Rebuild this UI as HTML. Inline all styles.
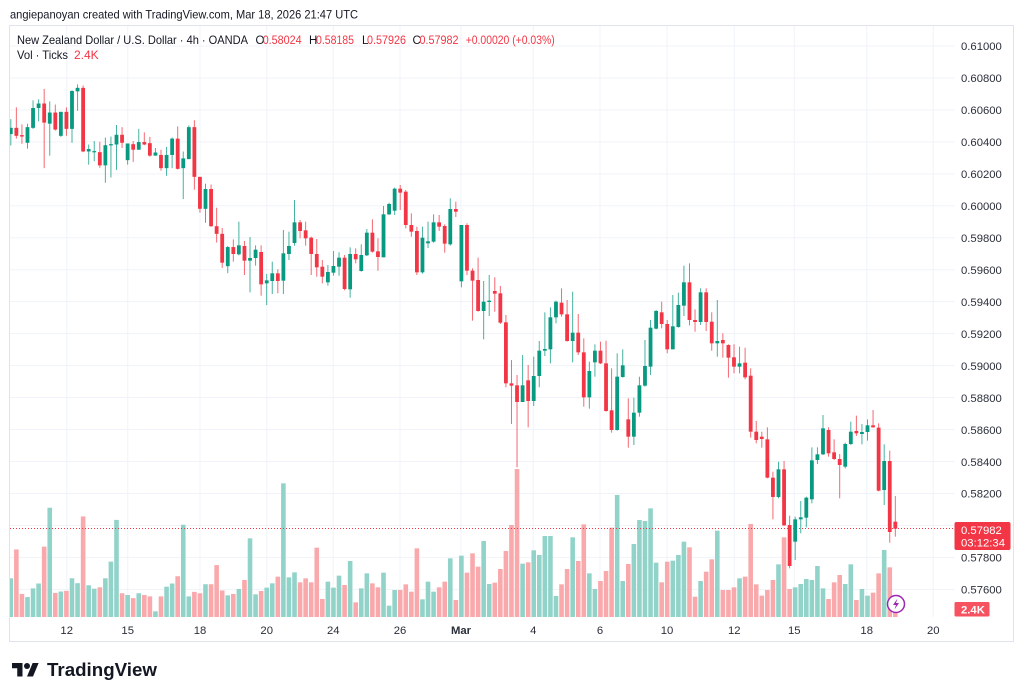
<!DOCTYPE html>
<html>
<head>
<meta charset="utf-8">
<style>
html,body{margin:0;padding:0;background:#fff;}
body{width:1024px;height:698px;overflow:hidden;}
svg{display:block;}
text{font-family:"Liberation Sans",Arial,sans-serif;}
</style>
</head>
<body>
<svg id="chart" width="1024" height="698" viewBox="0 0 1024 698" xmlns="http://www.w3.org/2000/svg">
  <rect x="0" y="0" width="1024" height="698" fill="#ffffff"/>
  <defs>
    <clipPath id="plot"><rect x="10" y="26" width="944" height="591"/></clipPath>
  </defs>

  <!-- header -->
  <text x="10" y="18.5" font-size="12" fill="#131722" textLength="348" lengthAdjust="spacingAndGlyphs">angiepanoyan created with TradingView.com, Mar 18, 2026 21:47 UTC</text>

  <!-- frame -->
  <rect x="9.5" y="25.5" width="1004" height="616" fill="none" stroke="#e0e3eb" stroke-width="1"/>

  <g id="grid"></g>
  <g id="vol" clip-path="url(#plot)"></g>
  <line x1="10" y1="528.5" x2="954" y2="528.5" stroke="#F23645" stroke-width="1" stroke-dasharray="1,2"/>
  <g id="candles" clip-path="url(#plot)"></g>

  <!-- legend -->
  <text x="17" y="44" font-size="12" fill="#131722" textLength="231" lengthAdjust="spacingAndGlyphs">New Zealand Dollar / U.S. Dollar · 4h · OANDA</text>
  <text x="255.5" y="44" font-size="11.5" fill="#131722">O</text>
  <text x="262.7" y="44" font-size="11.5" fill="#F23645" textLength="39" lengthAdjust="spacingAndGlyphs">0.58024</text>
  <text x="309" y="44" font-size="11.5" fill="#131722">H</text>
  <text x="316" y="44" font-size="11.5" fill="#F23645" textLength="38" lengthAdjust="spacingAndGlyphs">0.58185</text>
  <text x="362" y="44" font-size="11.5" fill="#131722">L</text>
  <text x="367" y="44" font-size="11.5" fill="#F23645" textLength="39" lengthAdjust="spacingAndGlyphs">0.57926</text>
  <text x="412.5" y="44" font-size="11.5" fill="#131722">C</text>
  <text x="419.5" y="44" font-size="11.5" fill="#F23645" textLength="39" lengthAdjust="spacingAndGlyphs">0.57982</text>
  <text x="465.7" y="44" font-size="11.5" fill="#F23645" textLength="89" lengthAdjust="spacingAndGlyphs">+0.00020 (+0.03%)</text>
  <text x="17" y="59" font-size="12" fill="#131722" textLength="51" lengthAdjust="spacingAndGlyphs">Vol · Ticks</text>
  <text x="74" y="59" font-size="12" fill="#F23645">2.4K</text>

  <!-- price axis -->
  <g font-size="11.3" fill="#2a2e39">
    <text x="961" y="50">0.61000</text>
    <text x="961" y="82">0.60800</text>
    <text x="961" y="114">0.60600</text>
    <text x="961" y="146">0.60400</text>
    <text x="961" y="178">0.60200</text>
    <text x="961" y="210">0.60000</text>
    <text x="961" y="242">0.59800</text>
    <text x="961" y="274">0.59600</text>
    <text x="961" y="306">0.59400</text>
    <text x="961" y="338">0.59200</text>
    <text x="961" y="370">0.59000</text>
    <text x="961" y="402">0.58800</text>
    <text x="961" y="434">0.58600</text>
    <text x="961" y="466">0.58400</text>
    <text x="961" y="497.5">0.58200</text>
    <text x="961" y="561.5">0.57800</text>
    <text x="961" y="593.5">0.57600</text>
  </g>

  <!-- last price label -->
  <rect x="954.5" y="522" width="56" height="28" rx="2" fill="#F23645"/>
  <text x="961" y="534" font-size="11.3" fill="#ffffff">0.57982</text>
  <text x="961" y="546.5" font-size="11.3" fill="#ffffff">03:12:34</text>
  <rect x="954.5" y="602" width="35" height="14.5" rx="1.5" fill="#F7525F"/>
  <text x="961" y="613.5" font-size="11.3" fill="#ffffff" font-weight="bold">2.4K</text>

  <!-- date axis -->
  <g font-size="11.3" fill="#2a2e39" text-anchor="middle">
    <text x="66.7" y="634">12</text>
    <text x="127.7" y="634">15</text>
    <text x="200" y="634">18</text>
    <text x="266.7" y="634">20</text>
    <text x="333.3" y="634">24</text>
    <text x="400" y="634">26</text>
    <text x="461" y="634" font-weight="bold">Mar</text>
    <text x="533.3" y="634">4</text>
    <text x="600" y="634">6</text>
    <text x="667" y="634">10</text>
    <text x="734.3" y="634">12</text>
    <text x="794.3" y="634">15</text>
    <text x="866.7" y="634">18</text>
    <text x="933.3" y="634">20</text>
  </g>

  <!-- lightning icon -->
  <circle cx="896" cy="604" r="8.5" fill="#ffffff" stroke="#9c27b0" stroke-width="1.5"/>
  <path d="M897.5 598.5 L893 605 L896 605 L894.5 609.5 L899 603 L896 603 Z" fill="#9c27b0"/>

  <!-- logo -->
  <g transform="translate(12,660) scale(0.75)" fill="#131722">
    <path d="M14 22H7V11H0V4h14v18zM28 22h-8l7.5-18h8L28 22z"/>
    <circle cx="20" cy="8" r="4"/>
  </g>
  <text x="47" y="676" font-size="18.2" font-weight="bold" fill="#131722" textLength="110" lengthAdjust="spacingAndGlyphs">TradingView</text>
</svg>

<script>
(function(){
  var NS="http://www.w3.org/2000/svg";
  var G="#089981", R="#F23645", VG="#92d3c9", VR="#f9a9ab";
  var segs=[
   {b:75,s:2.877,d:[
    [1,152,170,127,203,1448],[0,152,175,93,183,1365],[0,173,177,142,198,1493],[1,150,195,140,212,1502],
    [1,95,152,73,155,1477],[1,82,95,70,133,1463],[0,82,137,40,268,1357],[1,108,140,76,232,1245],
    [0,108,157,85,160,1490],[1,106,175,106,178,1486],[0,106,155,93,175,1484],[1,46,155,44,195,1448],
    [1,37,47,27,103,1462],[0,37,220,30,222,1270],[1,213,220,200,258,1468],[1,219,221,190,248,1478],
    [0,222,260,192,267,1474],[1,202,260,180,310,1448],[1,199,202,177,295,1400],[1,172,200,144,273,1280],
    [0,172,195,150,210,1491],[1,197,245,197,258,1496],[0,199,215,190,250,1505],[1,193,215,155,215,1491],
    [0,193,200,165,202,1496],[0,196,232,178,235,1500],[1,223,232,210,232,1543],[0,230,268,215,275,1500],
    [1,230,268,207,290,1472],[1,183,230,180,268,1463],[0,183,270,148,272,1442],[1,240,268,220,357,1294],
    [1,150,242,145,242,1500],[0,150,293,130,330,1487],[0,293,385,293,396,1491],[1,328,385,313,425,1465],
    [0,328,435,315,437,1465],[0,435,457,382,482,1410],[0,457,540,440,555,1483],[1,495,550,492,570,1497],
    [0,495,515,473,537,1493]
   ]},
   {b:175,s:3,d:[
    [1,211,238,140,241,1242],[0,213,257,198,300,1215],[1,249,257,186,352,1090],[1,224,249,211,272,1258],
    [0,231,328,211,362,1248],[1,316,325,297,390,1238],[1,295,318,260,357,1225],[0,295,318,283,355,1205],
    [1,235,317,165,357,925],[1,213,237,170,255,1207],[1,142,204,75,212,1192],[0,142,168,135,190,1222],
    [0,166,190,140,212,1210],[0,188,237,185,300,1222],[0,237,277,192,305,1118],[0,275,305,255,325,1272],
    [1,291,322,270,332,1220],[1,273,293,228,302,1238],[1,248,275,232,302,1202],[0,248,342,240,346,1230],
    [1,237,343,217,368,1158],[0,237,253,220,265,1282],[1,240,288,208,290,1240],[1,173,241,162,243,1195],
    [0,173,230,133,233,1225],[0,229,246,190,287,1237],[1,118,247,93,247,1193],[1,87,118,83,120,1292],
    [1,41,107,38,120,1245],[0,41,53,30,105,1245],[0,50,150,45,160,1228],[0,150,170,115,185,1250],
    [0,168,292,155,300,1120],[1,188,292,155,296,1273],[1,199,205,140,219,1220],[1,142,200,118,203,1250],
    [0,142,155,120,168,1237],[0,153,206,148,233,1220],[1,102,208,70,212,1150],[0,102,110,80,126,1275],
    [1,150,319,150,337,1142]
   ]},
   {b:250,s:3,d:[
    [0,-75,62,-80,75,968],[0,62,92,55,212,910],[0,90,183,23,185,950],[1,155,183,93,268,873],
    [1,152,156,75,198,1002],[0,123,131,82,185,998],[0,130,218,108,222,957],[0,217,400,195,412,903],
    [0,400,407,330,522,825],[0,406,456,375,652,657],[1,406,456,315,456,941],[0,391,453,345,532,937],
    [1,378,453,320,468,901],[1,302,378,273,412,915],[1,297,302,187,318,858],[1,202,298,172,340,858],
    [1,155,202,152,220,1038],[0,158,193,115,200,1003],[0,193,273,150,275,957],[1,248,273,125,337,862],
    [0,248,307,192,315,933],[0,307,442,265,470,823],[1,363,442,335,476,970],[1,302,337,283,380,1017],
    [0,302,340,275,342,993],[0,340,483,272,485,963],[0,481,540,355,548,833],[1,380,540,310,542,735],
    [1,346,381,298,383,993],[0,508,560,445,593,942],[1,488,560,443,585,882],[1,406,488,380,500,810],
    [1,348,407,270,410,813],[1,233,350,210,375,775],[1,183,236,180,238,938],[0,187,222,155,235,997],
    [0,222,298,210,310,935],[1,229,298,135,298,932],[1,165,231,128,233,915],[1,97,167,47,198,875]
   ]},
   {b:250,s:3,d:[
    [0,97,210,40,226,892],[0,210,216,178,245,1040],[1,127,216,115,225,993],[0,127,216,115,243,965],
    [0,215,280,187,302,928],[1,273,280,150,320,842],[0,270,280,250,323,1020],[0,285,323,283,383,1020],
    [0,322,350,283,370,1012],[1,340,350,290,370,985],[0,338,382,293,388,980],[0,377,545,355,563,822],
    [0,545,570,513,580,1003],[0,560,567,545,593,1037],[0,568,683,532,685,1020],[0,683,741,665,808,990],
    [1,658,741,635,745,943],[0,658,826,633,828,862],[0,825,948,797,955,1017],[1,808,875,800,930,1012],
    [1,802,808,753,850,1002],[1,743,803,740,832,987],[1,631,748,592,760,990],[1,613,630,592,642,948],
    [1,535,613,495,615,1015],[0,540,610,532,620,1047],[0,607,627,568,630,997],[0,627,645,612,745,975],
    [1,582,650,578,655,1002],[1,545,582,515,585,943],[0,543,550,497,558,1050],[1,546,552,522,583,1017],
    [1,526,546,508,572,1037],[0,526,532,480,533,1028],[0,533,722,520,724,970],[1,633,720,583,765,900],
    [0,633,846,602,878,952],[0,815,836,738,860,1085]
   ]}
  ];
  function el(tag,attrs,parent){var e=document.createElementNS(NS,tag);for(var k in attrs)e.setAttribute(k,attrs[k]);parent.appendChild(e);return e;}
  var grid=document.getElementById("grid"), vol=document.getElementById("vol"), cg=document.getElementById("candles");
  for(var k=0;k<18;k++){var y=46+k*31.96;el("line",{x1:10,x2:955,y1:y,y2:y,stroke:"#f0f3fa","stroke-width":1},grid);}
  var vx=[66.7,127.7,200,266.7,333.3,400,461,533.3,600,667,734.3,794.3,866.7,933.3];
  vx.forEach(function(x){el("line",{x1:x,x2:x,y1:26,y2:617,stroke:"#f0f3fa","stroke-width":1},grid);});
  var i=1, BASE=617;
  segs.forEach(function(sg){
    sg.d.forEach(function(c){
      var x=10.8+(i-1)*5.563;
      var Y=function(z){return sg.b+z/sg.s;};
      var col=c[0]?G:R, vcol=c[0]?VG:VR;
      var vt=Y(c[5]);
      el("rect",{x:(x-2.3).toFixed(2),y:vt.toFixed(2),width:4.6,height:Math.max(0,BASE-vt).toFixed(2),fill:vcol},vol);
      var bt=Y(c[1]), bb=Y(c[2]), wt=Y(c[3]), wb=Y(c[4]);
      el("line",{x1:x.toFixed(2),x2:x.toFixed(2),y1:wt.toFixed(2),y2:wb.toFixed(2),stroke:col,"stroke-width":1,opacity:0.75},cg);
      var top=Math.min(bt,bb), h=Math.max(1.2,Math.abs(bb-bt));
      el("rect",{x:(x-1.9).toFixed(2),y:top.toFixed(2),width:3.8,height:h.toFixed(2),fill:col},cg);
      i++;
    });
  });
})();
</script>
</body>
</html>
